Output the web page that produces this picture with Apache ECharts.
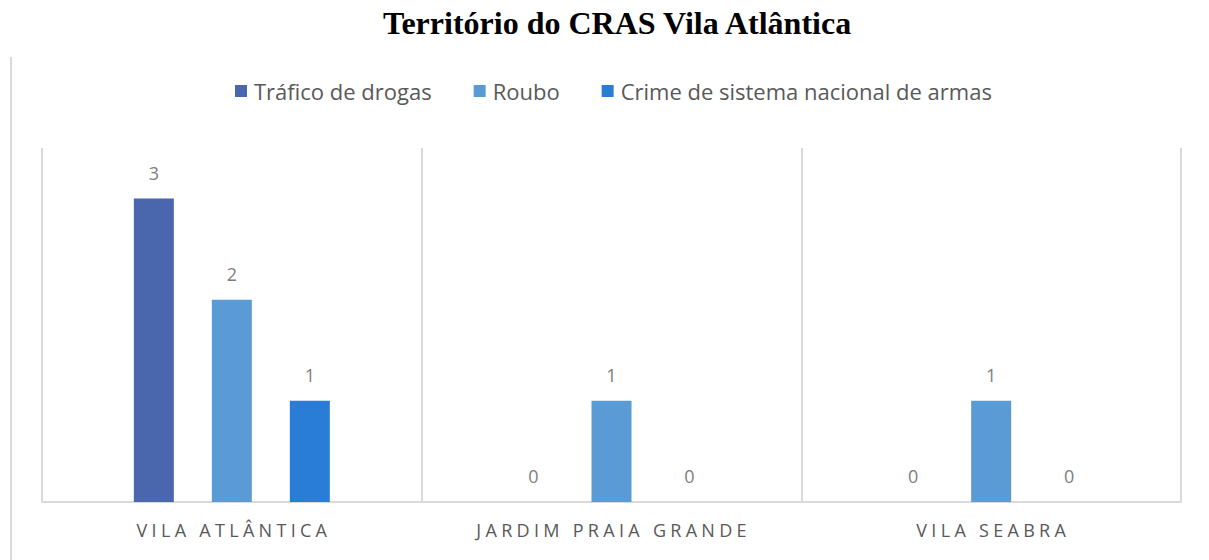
<!DOCTYPE html>
<html>
<head>
<meta charset="utf-8">
<script src="https://cdn.jsdelivr.net/npm/echarts@6/dist/echarts.min.js"></script>
<style>
  html, body { margin: 0; padding: 0; background: #fff; }
  #chart { width: 1209px; height: 560px; }
</style>
</head>
<body>
<div id="chart"></div>
<script>
// dados do gráfico
const categorias = ['VILA ATLÂNTICA', 'JARDIM PRAIA GRANDE', 'VILA SEABRA'];
const trafico = [3, 0, 0];
const roubo = [2, 1, 1];
const crimeArmas = [1, 0, 0];
const nomesSeries = ['Tráfico de drogas', 'Roubo', 'Crime de sistema nacional de armas'];
const cores = ['#4A66AC', '#5B9BD5', '#2A7DD6'];

const chart = echarts.init(document.getElementById('chart'), null, { renderer: 'svg' });

function serie(nome, valores, cor) {
  return {
    name: nome,
    type: 'bar',
    data: valores,
    barWidth: 40,
    barGap: '95%',
    itemStyle: { color: cor },
    label: {
      show: true,
      position: 'top',
      distance: 17,
      color: '#808080',
      fontSize: 18,
      fontFamily: 'Open Sans'
    }
  };
}

const option = {
  backgroundColor: '#fff',
  animation: false,
  title: {
    text: 'Território do CRAS Vila Atlântica',
    left: 378,
    top: 2,
    textStyle: {
      fontFamily: 'Liberation Serif',
      fontWeight: 'bold',
      fontSize: 32,
      color: '#000'
    }
  },
  legend: {
    data: nomesSeries,
    left: 230,
    top: 75,
    icon: 'rect',
    itemWidth: 12,
    itemHeight: 12,
    itemGap: 42,
    textStyle: {
      fontFamily: 'Open Sans',
      fontSize: 22,
      color: '#595959',
      padding: [0, 0, 0, 2]
    }
  },
  grid: { left: 42, right: 28, top: 148, bottom: 58 },
  xAxis: {
    type: 'category',
    data: categorias,
    axisLine: { lineStyle: { color: '#d9d9d9', width: 2 } },
    axisTick: { show: false },
    splitLine: { show: true, lineStyle: { color: '#d9d9d9', width: 2 } },
    axisLabel: {
      color: '#595959',
      fontSize: 18,
      fontFamily: 'Open Sans',
      margin: 19
    }
  },
  yAxis: {
    type: 'value',
    min: 0,
    max: 3.5,
    show: false
  },
  graphic: [{
    type: 'line',
    shape: { x1: 11, y1: 57, x2: 11, y2: 560 },
    style: { stroke: '#d9d9d9', lineWidth: 2 }
  }],
  series: [
    serie(nomesSeries[0], trafico, cores[0]),
    serie(nomesSeries[1], roubo, cores[1]),
    serie(nomesSeries[2], crimeArmas, cores[2])
  ]
};

chart.setOption(option);

// espaçamento entre letras dos rótulos das categorias
document.querySelectorAll('#chart svg text').forEach(function (t) {
  if (categorias.indexOf(t.textContent) >= 0) {
    t.setAttribute('letter-spacing', '4.3px');
    t.setAttribute('dx', '2.1');
  }
});
</script>
</body>
</html>
